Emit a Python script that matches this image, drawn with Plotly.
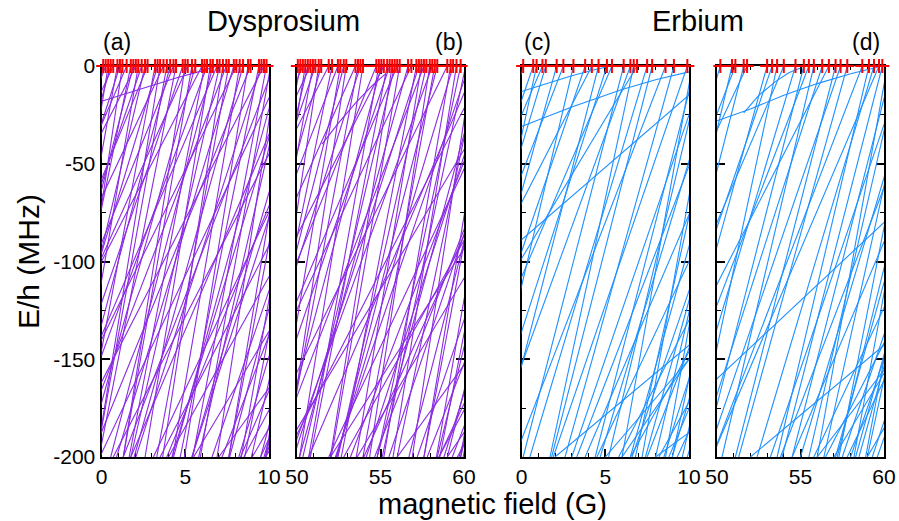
import plotly.graph_objects as go

# ---------------- data (fields in G, energies in MHz) ----------------
# each straight level: field where it reaches E=0 (top) and field where E=-200 (bot)
dy_a_top = [0.1, 0.25, 0.4, 0.55, 0.7, 0.95, 1.1, 1.25, 1.5, 1.75, 1.9, 2.05, 2.2, 2.4, 2.6, 2.75,
            3.2, 3.35, 3.5, 3.7, 3.9, 4.1, 4.3, 4.45, 4.85, 5.0, 5.15, 5.4, 5.6, 6.0, 6.15, 6.3,
            6.5, 6.65, 6.9, 7.05, 7.25, 7.45, 7.6, 7.9, 8.05, 8.25, 8.45, 8.75, 8.9, 9.4, 9.55,
            9.7, 9.85,
            10.1, 10.3, 10.5, 10.7, 10.9, 11.1, 11.3, 11.5, 11.75, 12.0, 12.2, 12.45, 12.7, 12.9,
            13.15, 13.4, 13.6, 13.85, 14.1, 14.35, 14.6, 14.9, 15.2, 15.5, 15.8, 16.2, 16.6, 17.0,
            17.6, 18.3, 19.5, 21.0,
            22.5, 24.0, 20.0, 23.0]
dy_a_bot = [-4.4, -8.75, -3.4, -5.95, -10.3, -3.25, -6.4, -2.25, -8.5, -3.05, -4.1, -9.95, -1.8,
            -5.6, -2.9, -6.75, -1.2, -3.65, -0.3, -7.3, -0.3, -2.1, -5.2, -0.15, -3.15, 1.3, -5.35,
            1.3, -0.9, -6.0, 1.65, -2.2, 2.6, 0.55, -3.1, 1.75, 3.65, -1.55, 3.3, 0.9, -3.45, 4.25,
            1.95, 4.95, -0.6, 4.7, 2.05, -2.3, 5.45,
            5.9, 1.3, 6.9, 4.3, -0.1, 5.8, 4.2, 7.6, 1.75, 7.6, 5.4, 8.35, 0.7, 5.4, 8.55, 3.9, 9.8,
            7.65, 3.1, 8.95, 6.6, 9.8, 8.2, 3.5, 9.5, 7.2, 9.7, 4.0, 9.8, 8.3, 5.5, 8.5,
            9.0, 7.0, 9.5, 9.8]

dy_b_top = [50.05, 50.2, 50.35, 50.5, 50.65, 50.8, 50.95, 51.1, 51.3, 51.45, 51.9, 52.1, 52.45,
            52.6, 52.8, 52.95, 53.5, 53.65, 53.8, 53.95, 54.75, 54.9, 55.05, 55.2, 55.4, 55.55,
            55.7, 55.85, 56.0, 56.15, 56.65, 56.85, 57.15, 57.3, 57.45, 57.6, 57.75, 57.95, 58.1,
            58.25, 58.4, 59.0, 59.2, 59.35, 59.55, 59.8,
            60.1, 60.3, 60.5, 60.7, 60.9, 61.1, 61.3, 61.5, 61.75, 62.0, 62.2, 62.45, 62.7, 62.9,
            63.15, 63.4, 63.6, 63.85, 64.1, 64.35, 64.6, 64.9, 65.2, 65.5, 65.8, 66.2, 66.6, 67.0,
            67.6, 68.3, 69.5, 71.0,
            63.0, 67.0, 73.0, 75.0, 72.5]
dy_b_bot = [43.05, 45.7, 40.35, 46.7, 45.15, 39.8, 46.75, 43.1, 47.8, 44.95, 39.9, 47.3, 43.45,
            48.6, 46.8, 49.35, 43.0, 49.25, 46.3, 50.15, 45.25, 50.7, 48.85, 43.2, 50.8, 47.55,
            52.0, 50.35, 46.0, 52.05, 50.15, 45.85, 52.65, 49.8, 53.55, 48.6, 52.45, 54.35, 49.6,
            53.95, 52.4, 47.5, 55.2, 52.35, 55.75, 54.8,
            55.1, 52.3, 56.9, 50.7, 56.0, 54.8, 49.3, 57.6, 54.15, 57.6, 53.2, 58.35, 56.7, 51.9,
            58.55, 55.5, 59.8, 54.65, 58.4, 59.95, 54.0, 59.0, 57.2, 59.8, 52.8, 58.8, 59.7, 57.8,
            53.6, 59.3, 58.5, 58.5,
            49.0, 52.0, 56.0, 59.0, 59.6]

er_c_top = [0.1, 0.7, 0.9, 1.25, 1.45, 2.1, 2.5, 3.1, 3.8, 4.2, 4.6, 5.1, 5.4, 6.1, 6.5, 6.7, 6.9,
            7.5, 7.8, 8.6, 9.1, 9.9,
            10.4, 11.0, 11.7, 12.3, 13.0, 13.8, 14.6, 15.5, 16.5, 17.8, 19.5, 22.0, 25.0,
            16.0, 20.0, 14.0, 30.0, 12.0, 40.0,
            10.8, 12.0, 13.4, 15.0, 18.5,
            10.2, 11.4, 12.8, 13.9, 15.8, 17.0, 21.0]
er_c_bot = [-5.9, -7.3, -4.1, -8.75, -5.55, -4.4, -6.5, -2.4, -4.2, -7.8, -1.4, -2.4, -4.6, 0.1, -2.0,
            1.7, -7.1, 0.5, 1.8, -0.4, 2.6, 1.9,
            4.4, 3.0, 4.7, 3.3, 6.5, 3.8, 6.6, 4.5, 7.5, 5.8, 6.5, 6.0, 5.0,
            8.5, 9.3, 9.0, 2.0, -15.0, 8.0,
            5.2, 6.8, 8.0, 9.6, 8.8,
            6.0, 7.2, 8.6, 7.4, 9.0, 9.9, 8.2]

er_d_top = [50.2, 50.9, 51.1, 51.6, 51.8, 53.0, 53.3, 53.6, 54.0, 54.7, 55.2, 55.5, 55.8, 56.3,
            56.7, 57.1, 57.4, 57.8, 58.7, 59.1, 59.4, 59.7, 59.9,
            60.5, 61.2, 62.0, 62.8, 63.6, 64.5, 65.5, 66.8, 68.5, 71.0, 74.0,
            65.0, 67.0, 62.5, 80.0, 70.0,
            60.9, 61.6, 63.0, 64.0, 66.0,
            60.2, 61.9, 63.3, 64.8, 67.8, 69.0, 72.5]
er_d_bot = [43.2, 45.4, 42.1, 45.6, 40.8, 46.5, 45.3, 48.6, 44.0, 47.7, 49.2, 46.5, 50.3, 48.8,
            44.7, 51.1, 49.4, 51.3, 49.7, 53.6, 52.4, 49.7, 53.9,
            54.5, 53.2, 55.0, 53.8, 57.1, 54.5, 57.5, 55.8, 56.5, 57.0, 56.0,
            58.5, 59.3, 58.2, 52.0, 45.0,
            55.5, 56.4, 57.2, 59.0, 58.0,
            56.0, 57.3, 58.9, 58.3, 59.6, 57.8, 59.0]

# bent levels near threshold (field, energy)
dy_a_curve_B = [0.0, 1.5, 3.0, 4.5, 6.0, 6.9]
dy_a_curve_E = [-18.0, -14.0, -10.0, -6.0, -2.5, 0.0]
dy_b_curve_B = [51.5, 52.5, 53.5, 54.5, 55.3]
dy_b_curve_E = [-40.0, -29.0, -19.0, -10.0, -4.0]
er_c_curve1_B = [0.0, 1.5, 3.0, 4.3, 5.3]
er_c_curve1_E = [-13.0, -9.0, -5.0, -2.0, 0.0]
er_c_curve2_B = [0.0, 3.0, 6.0, 8.0, 10.0]
er_c_curve2_E = [-31.0, -21.0, -12.0, -7.0, -3.0]
er_d_curve1_B = [51.6, 52.5, 53.5, 54.3, 55.0]
er_d_curve1_E = [-24.0, -15.0, -8.0, -3.5, -1.0]
er_d_curve2_B = [50.0, 52.0, 54.0, 56.0, 58.0, 59.9]
er_d_curve2_E = [-28.0, -22.0, -15.0, -9.0, -4.0, 0.0]

E_top, E_bot = 0.0, -200.0
x_ranges = [[0, 10], [50, 60], [0, 10], [50, 60]]
y_tickvals = [0, -50, -100, -150, -200]
y_ticktext = ["0", "-50", "-100", "-150", "-200"]
panel_labels = ["(a)", "(b)", "(c)", "(d)"]
DY, ER = "#8A2BE2", "#1E90FF"

panels = [
    (dy_a_top, dy_a_bot, [(dy_a_curve_B, dy_a_curve_E)], DY),
    (dy_b_top, dy_b_bot, [(dy_b_curve_B, dy_b_curve_E)], DY),
    (er_c_top, er_c_bot, [(er_c_curve1_B, er_c_curve1_E), (er_c_curve2_B, er_c_curve2_E)], ER),
    (er_d_top, er_d_bot, [(er_d_curve1_B, er_d_curve1_E), (er_d_curve2_B, er_d_curve2_E)], ER),
]

W, H = 899, 521
xdom_px = [(101.5, 269), (297, 464), (521.5, 689), (717, 884)]
ytop_px, ybot_px = 66, 457

fig = go.Figure()
FONT = "Liberation Sans, Arial, sans-serif"

for i, (top, bot, curves, col) in enumerate(panels):
    n = "" if i == 0 else str(i + 1)
    xs, ys = [], []
    for t, b in zip(top, bot):
        xs += [b, t, None]
        ys += [E_bot, E_top, None]
    for cb, ce in curves:
        xs += list(cb) + [None]
        ys += list(ce) + [None]
    fig.add_trace(go.Scatter(x=xs, y=ys, mode="lines", line=dict(color=col, width=1.1),
                             xaxis="x" + n, yaxis="y" + n, showlegend=False, hoverinfo="skip"))
    lo, hi = x_ranges[i]
    res = [t for t in top if lo <= t <= hi]
    fig.add_trace(go.Scatter(x=res, y=[E_top] * len(res), mode="markers",
                             marker=dict(symbol="cross-thin", size=10, line=dict(color="red", width=2)),
                             cliponaxis=False, xaxis="x" + n, yaxis="y" + n,
                             showlegend=False, hoverinfo="skip"))

    x0, x1 = xdom_px[i]
    common = dict(showline=True, linewidth=2, linecolor="black", mirror="ticks",
                  ticks="inside", ticklen=8, tickwidth=1.5, tickcolor="black",
                  showgrid=False, zeroline=False, automargin=False, layer="below traces",
                  tickfont=dict(family=FONT, size=21, color="black"))
    fig.layout["xaxis" + n] = dict(domain=[x0 / W, x1 / W], range=x_ranges[i], anchor="y" + n,
                                   tick0=x_ranges[i][0], dtick=5,
                                   minor=dict(dtick=1, ticklen=4, ticks="inside", tickcolor="black", tickwidth=1.2),
                                   **common)
    fig.layout["yaxis" + n] = dict(domain=[1 - ybot_px / H, 1 - ytop_px / H], range=[-200, 0],
                                   anchor="x" + n, tickmode="array", tickvals=y_tickvals,
                                   ticktext=y_ticktext, showticklabels=(i == 0),
                                   minor=dict(dtick=25, ticklen=4, ticks="inside", tickcolor="black", tickwidth=1.2),
                                   **common)

ann = []
for lab, xc in zip(panel_labels, [117, 449, 537, 866]):
    ann.append(dict(text=lab, x=xc / W, y=1 - 42 / H, xref="paper", yref="paper",
                    showarrow=False, font=dict(family=FONT, size=23, color="black"),
                    xanchor="center", yanchor="middle"))
for lab, xc in [("Dysprosium", 283), ("Erbium", 698)]:
    ann.append(dict(text=lab, x=xc / W, y=1 - 21 / H, xref="paper", yref="paper",
                    showarrow=False, font=dict(family=FONT, size=29, color="black"),
                    xanchor="center", yanchor="middle"))
ann.append(dict(text="magnetic field (G)", x=492 / W, y=1 - 504 / H, xref="paper", yref="paper",
                showarrow=False, font=dict(family=FONT, size=29, color="black"),
                xanchor="center", yanchor="middle"))
ann.append(dict(text="E/h (MHz)", x=28 / W, y=1 - 262 / H, xref="paper", yref="paper",
                showarrow=False, textangle=-90, font=dict(family=FONT, size=30, color="black"),
                xanchor="center", yanchor="middle"))

fig.update_layout(width=W, height=H, margin=dict(l=0, r=0, t=0, b=0),
                  paper_bgcolor="white", plot_bgcolor="white", annotations=ann,
                  font=dict(family=FONT, color="black"))

fig.write_html("out.html")
